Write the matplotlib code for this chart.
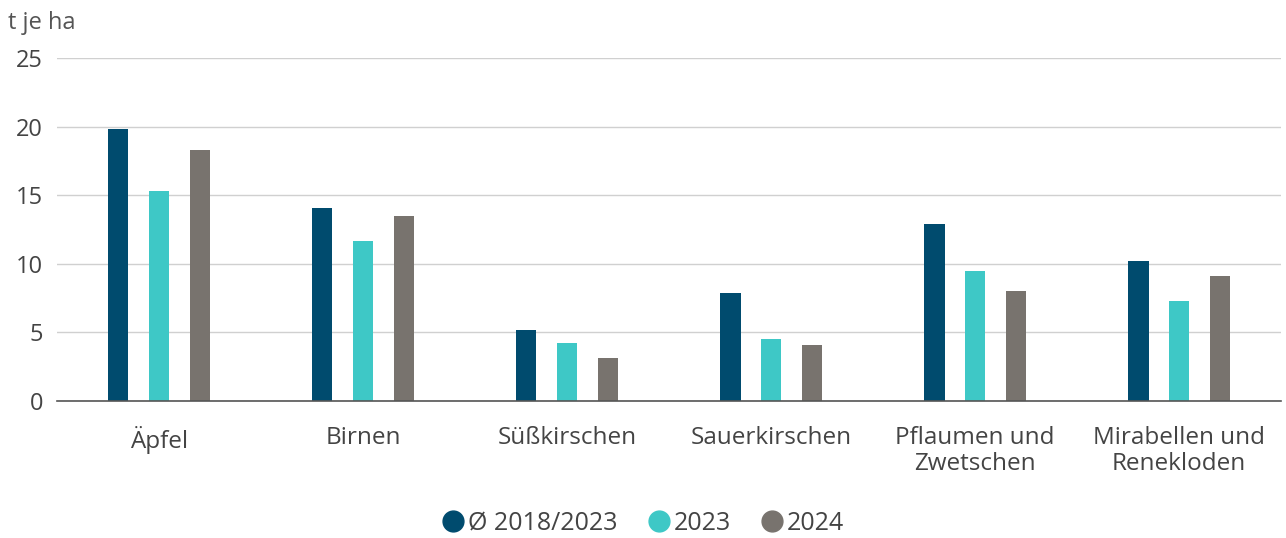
import numpy as np
import matplotlib.pyplot as plt

plt.rcParams['font.family'] = ['Open Sans', 'DejaVu Sans']

kategorien = ['Äpfel', 'Birnen', 'Süßkirschen', 'Sauerkirschen',
              'Pflaumen und\nZwetschen', 'Mirabellen und\nRenekloden']
serien = ['Ø 2018/2023', '2023', '2024']
mittel = [19.8, 14.1, 5.2, 7.9, 12.9, 10.2]
werte_2023 = [15.3, 11.7, 4.2, 4.5, 9.5, 7.3]
werte_2024 = [18.3, 13.5, 3.1, 4.1, 8.0, 9.1]
farben = ['#004b6e', '#3ec8c6', '#78736e']
textfarbe = '#444444'

fig = plt.figure(figsize=(12.86, 5.38), dpi=100)
ax = fig.add_axes([0.0443, 0.2546, 0.952, 0.6375])

x = np.arange(len(kategorien))
breite = 0.1
for i, werte in enumerate([mittel, werte_2023, werte_2024]):
    ax.bar(x + (i - 1) * 0.2, werte, breite, color=farben[i], zorder=3)

ax.set_xlim(-0.5, len(kategorien) - 0.5)
ax.set_ylim(0, 25)
ax.set_yticks([0, 5, 10, 15, 20, 25])
ax.yaxis.grid(True, color='#d0d0d0', linewidth=1, zorder=0)
ax.set_xticks(x)
ax.set_xticklabels(kategorien, fontsize=17.5, color=textfarbe, linespacing=1.12)
ax.tick_params(axis='y', length=0, labelsize=17, labelcolor=textfarbe, pad=10)
ax.tick_params(axis='x', length=0, pad=18)
for s in ['top', 'right', 'left']:
    ax.spines[s].set_visible(False)
ax.spines['bottom'].set_color('#555555')
ax.spines['bottom'].set_linewidth(1.2)
ax.spines['bottom'].set_zorder(4)

fig.text(0.006, 0.958, 't je ha', fontsize=17, color='#555555', va='center')

handles = [plt.Line2D([], [], marker='o', linestyle='', markersize=15, color=c) for c in farben]
fig.legend(handles, serien, loc='center', bbox_to_anchor=(0.5, 0.027), ncol=3, frameon=False,
           fontsize=18, handlelength=0.9, handletextpad=0.15, columnspacing=1.2,
           labelcolor=textfarbe)

fig.savefig('out.png', dpi=100)
